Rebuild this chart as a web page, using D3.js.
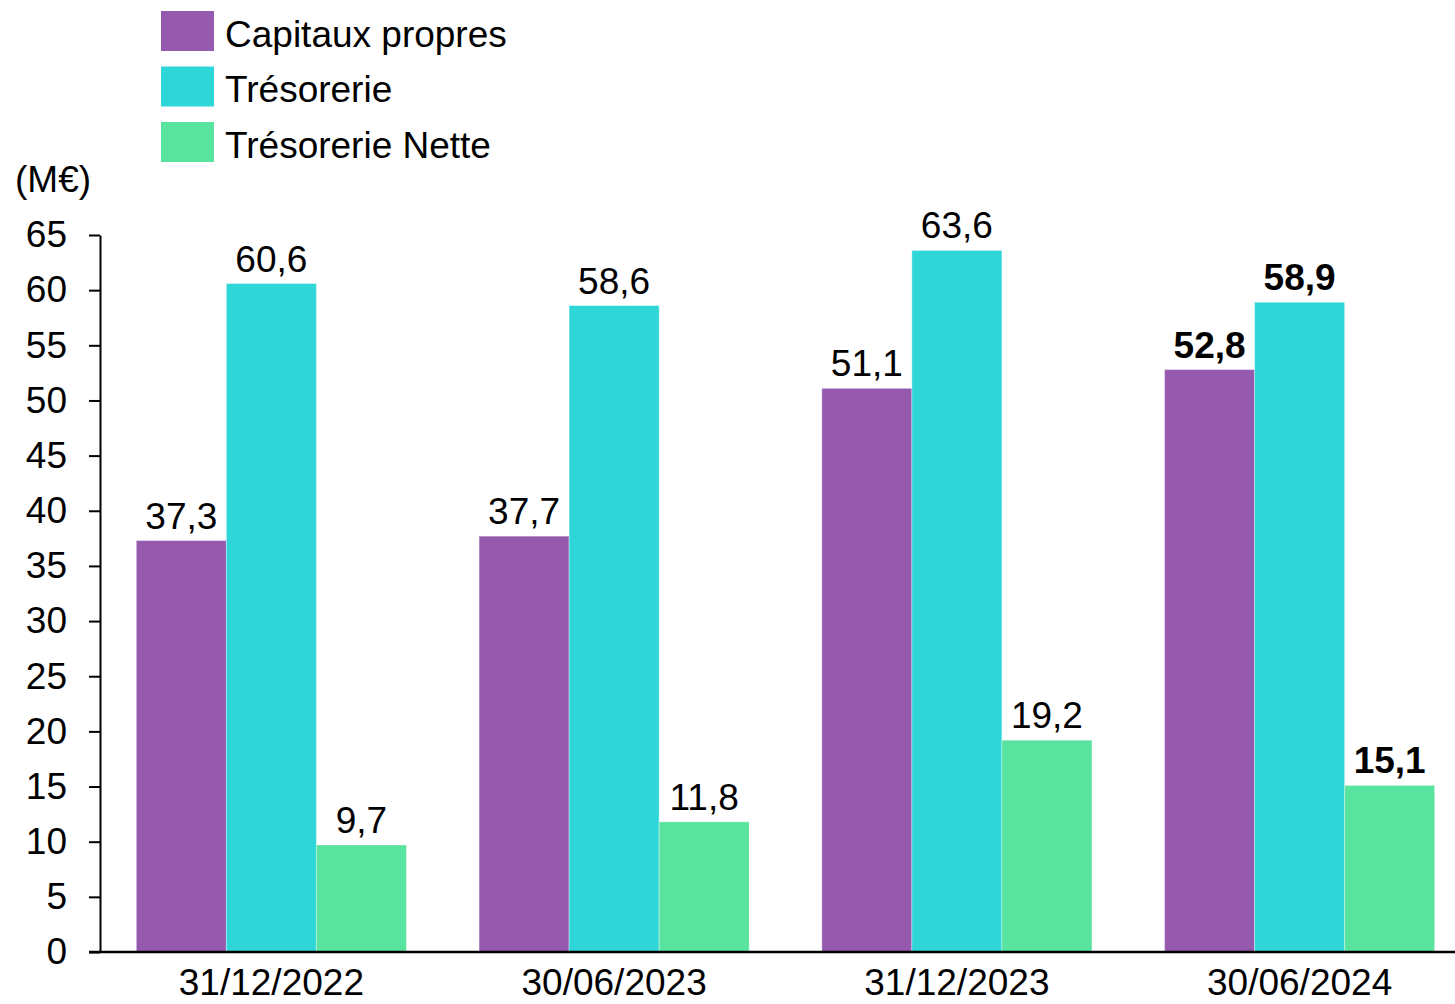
<!DOCTYPE html>
<html>
<head>
<meta charset="utf-8">
<script src="https://cdn.jsdelivr.net/npm/d3@7"></script>
<style>
  html, body { margin: 0; padding: 0; background: #fff; }
  svg { display: block; font-family: "Liberation Sans", Arial, sans-serif; }
</style>
</head>
<body>
<div id="chart"></div>
<script>
const dates = ["31/12/2022", "30/06/2023", "31/12/2023", "30/06/2024"];
const seriesNames = ["Capitaux propres", "Trésorerie", "Trésorerie Nette"];
const capitaux = [37.3, 37.7, 51.1, 52.8];
const tresorerie = [60.6, 58.6, 63.6, 58.9];
const tresoNette = [9.7, 11.8, 19.2, 15.1];
const yTicks = [0, 5, 10, 15, 20, 25, 30, 35, 40, 45, 50, 55, 60, 65];
const colors = ["#955AAE", "#2ED6D8", "#58E39E"];
const boldDate = "30/06/2024";

const width = 1455;
const height = 1004;
const marginLeft = 100;
const marginTop = 235;
const marginBottom = 52;
const fontSize = 37;

const values = [capitaux, tresorerie, tresoNette];
const data = dates.map((date, i) => ({
  date,
  values: seriesNames.map((name, j) => ({ name, date, value: values[j][i] }))
}));

const x = d3.scaleBand()
  .domain(dates)
  .range([marginLeft, 1471])
  .paddingInner(0.212)
  .paddingOuter(0.106);

const xSub = d3.scaleBand()
  .domain(seriesNames)
  .range([0, x.bandwidth()]);

const y = d3.scaleLinear()
  .domain([0, 65])
  .range([height - marginBottom, marginTop]);

const color = d3.scaleOrdinal().domain(seriesNames).range(colors);

const svg = d3.select("#chart").append("svg")
  .attr("width", width)
  .attr("height", height)
  .attr("viewBox", [0, 0, width, height]);

// bars
const groups = svg.append("g")
  .selectAll("g")
  .data(data)
  .join("g")
  .attr("transform", d => `translate(${x(d.date)},0)`);

groups.selectAll("rect")
  .data(d => d.values)
  .join("rect")
  .attr("x", d => xSub(d.name))
  .attr("y", d => y(d.value))
  .attr("width", xSub.bandwidth())
  .attr("height", d => y(0) - y(d.value))
  .attr("fill", d => color(d.name))
  .attr("stroke", "rgba(255,255,255,0.35)")
  .attr("stroke-width", 1);

groups.selectAll("text")
  .data(d => d.values)
  .join("text")
  .attr("x", d => xSub(d.name) + xSub.bandwidth() / 2)
  .attr("y", d => y(d.value) - 12)
  .attr("text-anchor", "middle")
  .attr("font-size", fontSize)
  .attr("font-weight", d => d.date === boldDate ? "bold" : "normal")
  .attr("fill", "#000")
  .text(d => d3.format(".1f")(d.value).replace(".", ","));

// y axis
svg.append("g")
  .attr("transform", `translate(${marginLeft},0)`)
  .call(d3.axisLeft(y).tickValues(yTicks).tickSize(11).tickSizeOuter(0).tickPadding(22))
  .call(g => g.selectAll("text").attr("font-size", fontSize).attr("fill", "#000").attr("font-family", null))
  .call(g => g.selectAll("line").attr("stroke", "#000").attr("stroke-width", 2))
  .call(g => g.select(".domain").attr("stroke", "#000").attr("stroke-width", 2));

// x axis
svg.append("g")
  .attr("transform", `translate(0,${y(0)})`)
  .call(d3.axisBottom(x).tickSize(0).tickPadding(17))
  .call(g => g.select(".domain").attr("d", `M89,0H${width}`).attr("stroke", "#000").attr("stroke-width", 2.5))
  .call(g => g.selectAll("text").attr("font-size", fontSize).attr("fill", "#000").attr("font-family", null).attr("dy", "0.71em"));

// unit label
svg.append("text")
  .attr("x", 15)
  .attr("y", 192)
  .attr("font-size", fontSize)
  .attr("fill", "#000")
  .text("(M€)");

// legend
const legend = svg.append("g")
  .selectAll("g")
  .data(seriesNames)
  .join("g")
  .attr("transform", (d, i) => `translate(161,${11 + i * 55.5})`);

legend.append("rect")
  .attr("width", 53)
  .attr("height", 40)
  .attr("fill", d => color(d));

legend.append("text")
  .attr("x", 64)
  .attr("y", 23)
  .attr("dy", "0.35em")
  .attr("font-size", fontSize)
  .attr("fill", "#000")
  .text(d => d);
</script>
</body>
</html>
